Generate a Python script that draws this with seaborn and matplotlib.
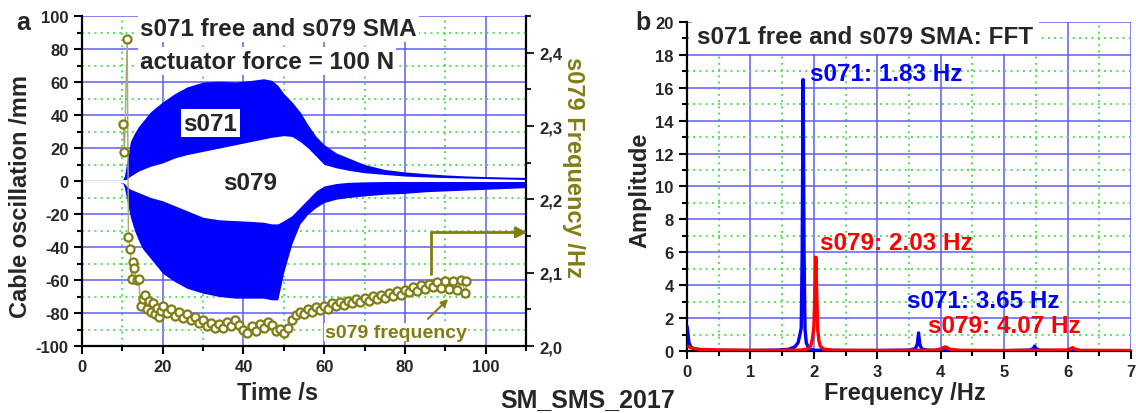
import numpy as np
import pandas as pd
import matplotlib
matplotlib.use("Agg")
import matplotlib.pyplot as plt
from matplotlib.ticker import MultipleLocator, FuncFormatter
import seaborn as sns

# ---------------- data: panel a (time domain) ----------------
t_env = [0, 5, 10, 10.5, 11, 12, 13, 14, 15, 17, 20, 23, 26, 30, 34, 38, 42, 45, 47,
         48.5, 50, 52, 54, 56, 58, 60, 63, 66, 70, 75, 80, 85, 90, 95, 100, 105, 110]
s071_upper = [0.5, 0.5, 0.5, 3, 10, 24, 29, 33, 36, 42, 48, 53, 57, 60, 60.5, 60, 61, 62, 61,
              58, 53, 48, 42, 34, 27, 22, 17, 14, 10, 7, 5.5, 4.5, 3.7, 3.1, 2.7, 2.4, 2.2]
s071_lower = [-0.5, -0.5, -0.5, -4, -10, -22, -30, -36, -41, -47, -56, -61, -65, -68, -70, -71, -71, -71, -72,
              -72, -55, -38, -26, -20, -16, -13, -11, -10, -9, -8, -7.5, -6.5, -6, -5.5, -5, -4.5, -4]
s079_upper = [0.8, 0.8, 0.8, 0.8, 1, 3, 4.5, 6, 7, 9, 11, 14, 16, 18, 20, 22, 24, 25.5, 26.5,
              27, 27.5, 27, 24, 20, 15, 10, 8, 6.5, 5, 4, 3, 2.5, 2.1, 1.8, 1.5, 1.2, 0.9]
s079_lower = [-0.8, -0.8, -0.8, -1.5, -3, -5, -6, -7, -8, -10, -12, -15, -18, -22, -23.5, -24, -24.5, -25, -26,
              -26, -24, -21, -16, -11, -6, -3, -1.5, -0.8, -0.5, -0.3, -0.3, -0.3, -0.3, -0.3, -0.3, -0.3, -0.3]

freq_t = [10.2, 10.5, 11.2, 11.5, 12.0, 12.3, 12.7, 13.0, 13.5, 14.0, 14.5, 15.0, 15.5, 16.0, 16.5,
          17.0, 17.5, 18.0, 18.5, 19.0, 19.5, 20.0, 21.0, 22.0, 23.0, 24.0, 25.0, 26.0, 27.0, 28.0,
          29.0, 30.0, 31.0, 32.0, 33.0, 34.0, 35.0, 36.0, 37.0, 38.0, 39.0, 40.0, 41.0, 42.0, 43.0,
          44.0, 45.0, 46.0, 47.0, 48.0, 49.0, 50.0, 51.0, 52.0, 53.0, 54.0, 55.0, 56.0, 57.0, 58.0,
          59.0, 60.0, 61.0, 62.0, 63.0, 64.0, 65.0, 66.0, 67.0, 68.0, 69.0, 70.0, 71.0, 72.0, 73.0,
          74.0, 75.0, 76.0, 77.0, 78.0, 79.0, 80.0, 81.0, 82.0, 83.0, 84.0, 85.0, 86.0, 87.0, 88.0,
          89.0, 90.0, 91.0, 92.0, 93.0, 94.0, 95.0, 95.2]
freq_hz = [2.303, 2.265, 2.419, 2.148, 2.132, 2.091, 2.114, 2.107, 2.090, 2.092, 2.055, 2.064, 2.070, 2.050, 2.062,
           2.046, 2.058, 2.044, 2.052, 2.040, 2.048, 2.054, 2.045, 2.050, 2.041, 2.046, 2.038, 2.043, 2.035, 2.040,
           2.031, 2.036, 2.027, 2.031, 2.025, 2.030, 2.024, 2.033, 2.027, 2.035, 2.029, 2.022, 2.018, 2.027, 2.021,
           2.030, 2.025, 2.033, 2.028, 2.020, 2.023, 2.018, 2.025, 2.035, 2.042, 2.047, 2.043, 2.050, 2.046, 2.053,
           2.049, 2.055, 2.051, 2.058, 2.054, 2.060, 2.056, 2.062, 2.058, 2.064, 2.060, 2.066, 2.062, 2.068, 2.064,
           2.070, 2.066, 2.072, 2.068, 2.075, 2.070, 2.077, 2.073, 2.080, 2.075, 2.083, 2.078, 2.085, 2.080, 2.087,
           2.079, 2.088, 2.078, 2.089, 2.076, 2.090, 2.072, 2.088]

# ---------------- data: panel b (FFT) ----------------
s071_f = [0.0, 0.01, 0.03, 0.06, 0.1, 0.15, 0.25, 0.5, 1.0, 1.4, 1.6, 1.7, 1.75, 1.78, 1.80, 1.815, 1.83,
          1.845, 1.86, 1.88, 1.92, 2.0, 2.5, 3.0, 3.5, 3.6, 3.63, 3.65, 3.67, 3.7, 3.8, 4.5, 5.0, 5.4,
          5.46, 5.48, 5.5, 5.56, 6.0, 7.0]
s071_amp = [1.5, 1.2, 0.5, 0.25, 0.15, 0.1, 0.06, 0.04, 0.03, 0.05, 0.1, 0.25, 0.5, 1.0, 1.4, 6.0, 16.5,
            6.0, 1.3, 0.5, 0.15, 0.05, 0.03, 0.03, 0.05, 0.15, 0.4, 1.1, 0.4, 0.12, 0.04, 0.02, 0.02, 0.05,
            0.15, 0.3, 0.15, 0.04, 0.02, 0.02]
s079_f = [0.0, 0.02, 0.05, 0.1, 0.2, 0.5, 1.0, 1.5, 1.8, 1.9, 1.95, 1.98, 2.0, 2.015, 2.03, 2.045, 2.06,
          2.08, 2.1, 2.15, 2.3, 3.0, 3.9, 4.0, 4.05, 4.07, 4.1, 4.15, 4.3, 5.0, 6.0, 6.05, 6.08, 6.11, 6.2, 7.0]
s079_amp = [0.3, 0.28, 0.22, 0.15, 0.1, 0.06, 0.04, 0.04, 0.06, 0.12, 0.3, 0.8, 1.5, 3.5, 5.7, 3.5, 1.3,
            0.6, 0.3, 0.12, 0.05, 0.03, 0.05, 0.12, 0.22, 0.25, 0.2, 0.1, 0.04, 0.03, 0.06, 0.15, 0.2, 0.12,
            0.04, 0.03]

# ---------------- style ----------------
sns.set_theme(style="ticks")
plt.rcParams['font.family'] = ['Liberation Sans', 'DejaVu Sans']
plt.rcParams['font.weight'] = 'bold'
plt.rcParams['axes.labelweight'] = 'bold'
plt.rcParams['axes.unicode_minus'] = False

BLUE = '#0000ff'
RED = '#ff0000'
OLIVE = '#807d14'
GRID_BLUE = '#5a5af0'
GRID_GREEN = '#55e055'
TICK_FS = 12
LABEL_FS = 17
TXT_FS = 17.5

fig = plt.figure(figsize=(11.36, 4.14), dpi=100)
ax = fig.add_axes([0.0722, 0.1618, 0.3908, 0.7971])
bx = fig.add_axes([0.6048, 0.1498, 0.3908, 0.7947])


def style_axes(a):
    a.set_axisbelow(True)
    a.grid(which='major', color=GRID_BLUE, lw=1.2, alpha=0.9)
    a.grid(which='minor', color=GRID_GREEN, lw=1.4, linestyle=(0, (1, 2.2)))
    for s in ['top', 'right']:
        a.spines[s].set_visible(False)
    for s in ['left', 'bottom']:
        a.spines[s].set_linewidth(1.6)
        a.spines[s].set_color('black')
    a.tick_params(which='major', direction='out', length=6, width=1.5, labelsize=TICK_FS, color='black')
    a.tick_params(which='minor', direction='out', length=3.5, width=1.5, color='black')


# ---------------- panel a ----------------
ax.fill_between(t_env, s071_lower, s071_upper, color=BLUE, lw=0, zorder=1)
ax.fill_between(t_env, s079_lower, s079_upper, color='white', lw=0, zorder=1.5)
ax.set_xlim(0, 110)
ax.set_ylim(-100, 100)
ax.xaxis.set_major_locator(MultipleLocator(20))
ax.xaxis.set_minor_locator(MultipleLocator(10))
ax.yaxis.set_major_locator(MultipleLocator(20))
ax.yaxis.set_minor_locator(MultipleLocator(10))
style_axes(ax)
ax.set_xlabel('Time /s', fontsize=LABEL_FS)
ax.set_ylabel('Cable oscillation /mm', fontsize=LABEL_FS)
ax.xaxis.set_label_coords(0.44, -0.105)
ax.yaxis.set_label_coords(-0.112, 0.455)

box = dict(facecolor='white', edgecolor='none', pad=1.5)
ax.text(14.4, 92.7, 's071 free and s079 SMA', fontsize=TXT_FS, fontweight='bold',
        ha='left', va='center', bbox=box, zorder=3)
ax.text(14.4, 72.7, 'actuator force = 100 N', fontsize=TXT_FS, fontweight='bold',
        ha='left', va='center', bbox=box, zorder=3)
ax.text(31.8, 35, 's071', fontsize=TXT_FS, fontweight='bold', ha='center', va='center',
        bbox=dict(facecolor='white', edgecolor='none', pad=2), zorder=3)
ax.text(41.7, -1.2, 's079', fontsize=TXT_FS, fontweight='bold', ha='center', va='center', zorder=3)

ax2 = ax.twinx()
freq_df = pd.DataFrame({'t': freq_t, 'f': freq_hz})
ax2.plot(freq_df['t'], freq_df['f'], color='#a8a878', lw=1.0, zorder=2)
sns.scatterplot(data=freq_df, x='t', y='f', ax=ax2, marker='o', s=34, facecolor='white',
                edgecolor=OLIVE, linewidth=1.6, zorder=3, legend=False)
ax2.set_ylim(2.0, 2.45)
ax2.set_xlim(0, 110)
ax2.yaxis.set_major_locator(MultipleLocator(0.1))
ax2.yaxis.set_minor_locator(MultipleLocator(0.05))
ax2.yaxis.set_major_formatter(FuncFormatter(lambda v, p: f'{v:.1f}'.replace('.', ',')))
ax2.spines['top'].set_visible(False)
ax2.spines['left'].set_visible(False)
ax2.spines['bottom'].set_visible(False)
ax2.spines['right'].set_linewidth(1.6)
ax2.spines['right'].set_color('black')
ax2.tick_params(which='major', direction='out', length=6, width=1.5, labelsize=TICK_FS)
ax2.tick_params(which='minor', direction='out', length=3.5, width=1.5)
ax2.set_ylabel('s079 Frequency /Hz', fontsize=LABEL_FS, color=OLIVE, rotation=270,
               va='center', ha='center', rotation_mode='anchor')
ax2.yaxis.set_label_coords(1.108, 0.545)
ax2.set_xlabel('')
ax2.text(77.8, 2.019, 's079 frequency', fontsize=14, fontweight='bold', color=OLIVE,
         ha='center', va='center', bbox=dict(facecolor='white', edgecolor='none', pad=0.5), zorder=4)
ax2.annotate('', xy=(90.7, 2.064), xytext=(85.7, 2.037),
             arrowprops=dict(arrowstyle='-|>', color=OLIVE, lw=1.5, mutation_scale=10,
                             shrinkA=0, shrinkB=0), zorder=4)
ax2.annotate('', xy=(110.3, 2.155), xytext=(86.5, 2.098), annotation_clip=False,
             arrowprops=dict(arrowstyle='-|>', color=OLIVE, lw=2, mutation_scale=16,
                             connectionstyle='angle,angleA=90,angleB=0,rad=0',
                             shrinkA=0, shrinkB=0), zorder=4)

# ---------------- panel b ----------------
sns.lineplot(x=s071_f, y=s071_amp, ax=bx, color=BLUE, lw=2.4, zorder=3)
sns.lineplot(x=s079_f, y=s079_amp, ax=bx, color=RED, lw=2.4, zorder=4)
bx.set_xlim(0, 7)
bx.set_ylim(0, 20)
bx.xaxis.set_major_locator(MultipleLocator(1))
bx.xaxis.set_minor_locator(MultipleLocator(0.5))
bx.yaxis.set_major_locator(MultipleLocator(2))
bx.yaxis.set_minor_locator(MultipleLocator(1))
style_axes(bx)
bx.set_xlabel('Frequency /Hz', fontsize=LABEL_FS)
bx.set_ylabel('Amplitude', fontsize=LABEL_FS)
bx.xaxis.set_label_coords(0.49, -0.092)
bx.yaxis.set_label_coords(-0.08, 0.49)

bx.text(0.16, 19.1, 's071 free and s079 SMA: FFT', fontsize=TXT_FS, fontweight='bold',
        ha='left', va='center', bbox=dict(facecolor='white', edgecolor='none', pad=4), zorder=5)
bx.text(1.94, 16.84, 's071: 1.83 Hz', fontsize=TXT_FS, fontweight='bold', color=BLUE,
        ha='left', va='center', zorder=6)
bx.text(2.10, 6.6, 's079: 2.03 Hz', fontsize=TXT_FS, fontweight='bold', color=RED,
        ha='left', va='center', zorder=6)
bx.text(3.47, 3.04, 's071: 3.65 Hz', fontsize=TXT_FS, fontweight='bold', color=BLUE,
        ha='left', va='center', zorder=6)
bx.text(3.80, 1.52, 's079: 4.07 Hz', fontsize=TXT_FS, fontweight='bold', color=RED,
        ha='left', va='center', zorder=6)

# ---------------- figure texts ----------------
fig.text(0.020, 0.944, 'a', fontsize=18, fontweight='bold', ha='center', va='center')
fig.text(0.566, 0.944, 'b', fontsize=18, fontweight='bold', ha='center', va='center')
fig.text(0.5176, 0.034, 'SM_SMS_2017', fontsize=18, fontweight='bold', ha='center', va='center')

fig.savefig('out.png', dpi=100)
